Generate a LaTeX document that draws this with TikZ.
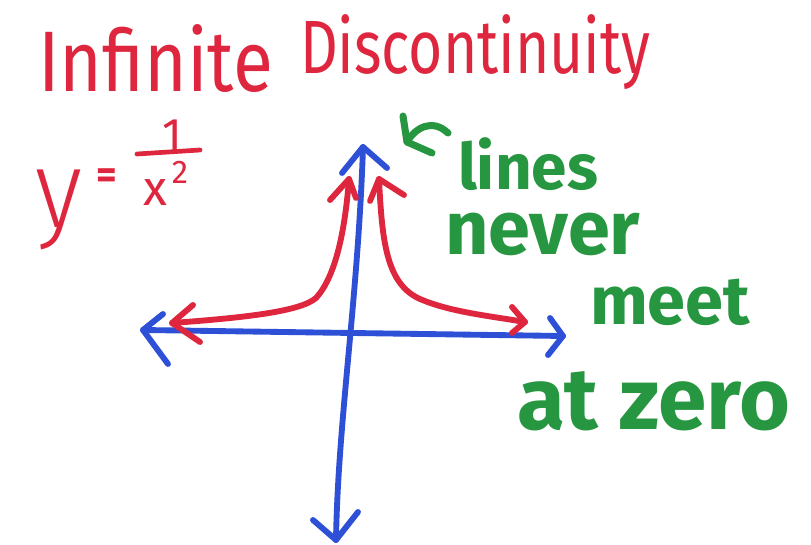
\documentclass[tikz,border=0pt]{standalone}
\usepackage{fontspec}
\setmainfont{Fira Sans}
\newfontfamily\lightfont{Fira Sans Light}
\usepackage{graphicx}
\definecolor{mred}{RGB}{222,38,62}
\definecolor{mblue}{RGB}{45,80,215}
\definecolor{mgreen}{RGB}{38,150,64}
\begin{document}
\begin{tikzpicture}[x=0.03cm,y=-0.03cm,
  pen/.style={line width=5pt,line cap=round,line join=round},
  axis/.style={pen,draw=mblue},
  curve/.style={pen,draw=mred},
  lbl/.style={inner sep=0pt,outer sep=0pt,anchor=north west},
  redtxt/.style={lbl,text=mred},
  greentxt/.style={inner sep=0pt,outer sep=0pt,anchor=base west,text=mgreen,font=\bfseries}]
\useasboundingbox[fill=white] (0,0) rectangle (811,545);

% title
\node[redtxt] (t1) at (38,25) {\resizebox*{7.05cm}{2.04cm}{Infinite}};
\node[redtxt] (t2) at (300,15) {\resizebox*{10.5cm}{2.25cm}{Discontinuity}};

% formula
\node[redtxt] (fy) at (35,170) {\resizebox*{1.41cm}{2.4cm}{\lightfont y}};
\node[text=mred,inner sep=0pt,font=\bfseries\fontsize{34pt}{34pt}\selectfont] (feq) at (107,179) {=};
\node[text=mred,inner sep=0pt,font=\fontsize{39pt}{39pt}\selectfont] (fone) at (172,135) {1};
\draw[pen,draw=mred,line width=4pt] (137,154) -- (200,150);
\node[text=mred,inner sep=0pt,font=\fontsize{42pt}{42pt}\selectfont] (fx) at (155,193) {x};
\node[text=mred,inner sep=0pt,font=\fontsize{28pt}{28pt}\selectfont] (ftwo) at (180,172) {2};

% axes
\coordinate (vt) at (363,147);
\coordinate (vb) at (336,540);
\coordinate (hl) at (143,330);
\coordinate (hr) at (563,336);
\draw[axis] (vt) .. controls (358,300) and (338,420) .. (vb);
\draw[axis] (342,173) -- (vt) -- (387,168);
\draw[axis] (313,520) -- (vb) -- (358,512);
\draw[axis] (hl) -- (hr);
\draw[axis] (163,314) -- (hl) -- (168,364);
\draw[axis] (550,318) -- (hr) -- (548,355);

% red curves
\coordinate (la) at (172,323);
\coordinate (lt) at (349,179);
\coordinate (rt) at (379,179);
\coordinate (ra) at (525,322);
\draw[curve] (la) .. controls (240,318) and (300,312) .. (316,298)
  .. controls (336,276) and (345,230) .. (lt);
\draw[curve] (193,305) -- (la) -- (200,342);
\draw[curve] (330,200) -- (lt) -- (356,198);
\draw[curve] (rt) .. controls (382,240) and (386,284) .. (420,299)
  .. controls (450,312) and (490,316) .. (ra);
\draw[curve] (370,201) -- (rt) -- (404,195);
\draw[curve] (512,307) -- (ra) -- (512,333);

% green note
\coordinate (cv) at (407,142);
\draw[pen,draw=mgreen,line width=6pt] (403,116) -- (cv) -- (432,153);
\draw[pen,draw=mgreen,line width=6pt] (cv) .. controls (415,128) and (432,118) .. (448,133);
\node[greentxt] (w1) at (458,190) {\resizebox{4.2cm}{!}{lines}};
\node[greentxt] (w2) at (445,255) {\resizebox{5.85cm}{!}{never}};
\node[greentxt] (w3) at (590,325) {\resizebox{4.8cm}{!}{meet}};
\node[greentxt] (w4) at (517,430) {\resizebox{8.19cm}{!}{at zero}};
\end{tikzpicture}
\end{document}
